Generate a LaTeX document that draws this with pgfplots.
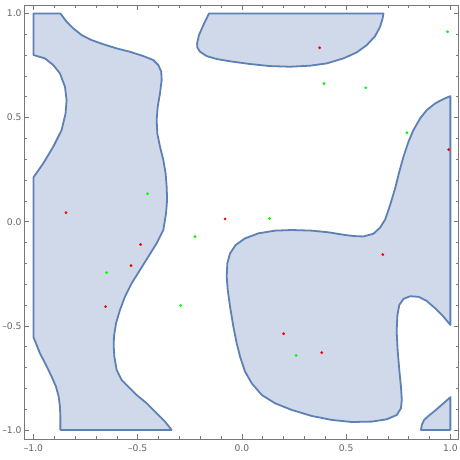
\documentclass[border=0pt]{standalone}
\usepackage{fontspec}
\setmainfont{DejaVu Sans}
\usepackage{pgfplots}
\pgfplotsset{compat=1.18}
\definecolor{edgec}{rgb}{0.368417,0.506779,0.709798}
\definecolor{fillc}{RGB}{207,217,233}
\definecolor{framec}{RGB}{120,120,120}
\definecolor{labelc}{RGB}{100,100,100}
\definecolor{ptgreen}{rgb}{0,1,0}
\definecolor{ptred}{rgb}{1,0,0}
\begin{document}
\begin{tikzpicture}
\useasboundingbox (-24.3pt,-20.7pt) rectangle (435.7pt,439.3pt);
\begin{axis}[
  at={(0pt,0pt)}, anchor=south west,
  scale only axis, width=434.4pt, height=434pt,
  xmin=-1.044, xmax=1.040, ymin=-1.045, ymax=1.039,
  axis line style={framec, line width=0.7pt},
  tick style={framec, line width=0.6pt},
  major tick length=5pt, minor tick length=3pt, tick align=inside,
  xtick={-1,-0.5,0,0.5,1}, ytick={-1,-0.5,0,0.5,1},
  minor x tick num=4, minor y tick num=4,
  xticklabels={–1.0,–0.5,0.0,0.5,1.0},
  yticklabels={–1.0,–0.5,0.0,0.5,1.0},
  ticklabel style={font=\fontsize{9.2}{10}\selectfont, text=labelc},
  xticklabel style={yshift=-2pt},
  yticklabel style={inner sep=2.5pt},
  region/.style={draw=edgec, fill=fillc, line width=1.8pt, line join=round, mark=none},
]
\addplot[region] coordinates {
(-1,1) (-0.871,1) (-0.841,0.960) (-0.809,0.928) (-0.769,0.896) (-0.721,0.872) (-0.665,0.852) (-0.601,0.832) (-0.537,0.816) (-0.473,0.795) (-0.425,0.776) (-0.401,0.752) (-0.387,0.720) (-0.385,0.680) (-0.393,0.616) (-0.404,0.552) (-0.409,0.488) (-0.406,0.424) (-0.393,0.360) (-0.377,0.296) (-0.366,0.232) (-0.361,0.168) (-0.359,0.104) (-0.364,0.040) (-0.377,-0.040) (-0.409,-0.104) (-0.449,-0.168) (-0.489,-0.232) (-0.529,-0.296) (-0.561,-0.360) (-0.585,-0.424) (-0.604,-0.488) (-0.614,-0.552) (-0.615,-0.600) (-0.612,-0.648) (-0.601,-0.712) (-0.577,-0.760) (-0.545,-0.792) (-0.505,-0.832) (-0.457,-0.872) (-0.409,-0.920) (-0.369,-0.960) (-0.337,-1) (-0.871,-1) (-0.871,-0.936) (-0.873,-0.888) (-0.879,-0.840) (-0.892,-0.792) (-0.913,-0.744) (-0.940,-0.688) (-0.969,-0.632) (-1,-0.555) (-1,0.213) (-0.953,0.280) (-0.905,0.360) (-0.865,0.440) (-0.846,0.520) (-0.841,0.584) (-0.849,0.648) (-0.873,0.712) (-0.905,0.752) (-0.945,0.784) (-1,0.800)
} -- cycle;
\addplot[region] coordinates {
(-0.158,1) (-0.185,0.944) (-0.206,0.896) (-0.215,0.856) (-0.214,0.837) (-0.201,0.816) (-0.169,0.795) (-0.121,0.781) (-0.057,0.770) (0.039,0.757) (0.135,0.747) (0.231,0.744) (0.327,0.749) (0.407,0.760) (0.487,0.784) (0.551,0.813) (0.599,0.848) (0.639,0.891) (0.663,0.936) (0.675,0.976) (0.679,1)
} -- cycle;
\addplot[region] coordinates {
(1,0.603) (0.967,0.589) (0.927,0.568) (0.887,0.536) (0.855,0.496) (0.823,0.440) (0.799,0.384) (0.775,0.312) (0.755,0.240) (0.735,0.160) (0.711,0.080) (0.687,0.010) (0.663,-0.028) (0.631,-0.058) (0.583,-0.071) (0.535,-0.069) (0.495,-0.064) (0.415,-0.051) (0.335,-0.043) (0.239,-0.040) (0.159,-0.043) (0.079,-0.056) (0.015,-0.080) (-0.030,-0.112) (-0.057,-0.152) (-0.070,-0.200) (-0.073,-0.264) (-0.068,-0.328) (-0.057,-0.408) (-0.041,-0.504) (-0.025,-0.584) (-0.009,-0.648) (0.015,-0.720) (0.047,-0.776) (0.095,-0.832) (0.159,-0.872) (0.239,-0.904) (0.335,-0.933) (0.431,-0.952) (0.527,-0.962) (0.623,-0.960) (0.695,-0.949) (0.743,-0.928) (0.763,-0.896) (0.767,-0.856) (0.763,-0.792) (0.755,-0.712) (0.747,-0.616) (0.743,-0.540) (0.743,-0.512) (0.746,-0.448) (0.755,-0.400) (0.775,-0.371) (0.807,-0.358) (0.847,-0.361) (0.887,-0.381) (0.927,-0.416) (0.967,-0.456) (1,-0.496)
} -- cycle;
\addplot[region] coordinates {
(0.859,-1) (1,-1) (1,-0.843) (0.967,-0.872) (0.927,-0.907) (0.895,-0.933) (0.874,-0.952) (0.863,-0.976)
} -- cycle;
\addplot[only marks, mark=*, mark size=1.2pt, ptred, mark options={draw=ptred, fill=ptred}] coordinates {
(-0.844,0.043) (0.373,0.835) (-0.081,0.013) (0.992,0.346) (-0.486,-0.110) (-0.532,-0.211) (-0.654,-0.408) (0.676,-0.158) (0.200,-0.538) (0.383,-0.629)
};
\addplot[only marks, mark=*, mark size=1.2pt, ptgreen, mark options={draw=ptgreen, fill=ptgreen}] coordinates {
(-0.452,0.134) (0.987,0.912) (0.394,0.663) (0.594,0.643) (0.791,0.427) (0.133,0.015) (-0.225,-0.072) (-0.649,-0.245) (-0.294,-0.403) (0.260,-0.643)
};
\end{axis}
\end{tikzpicture}
\end{document}
